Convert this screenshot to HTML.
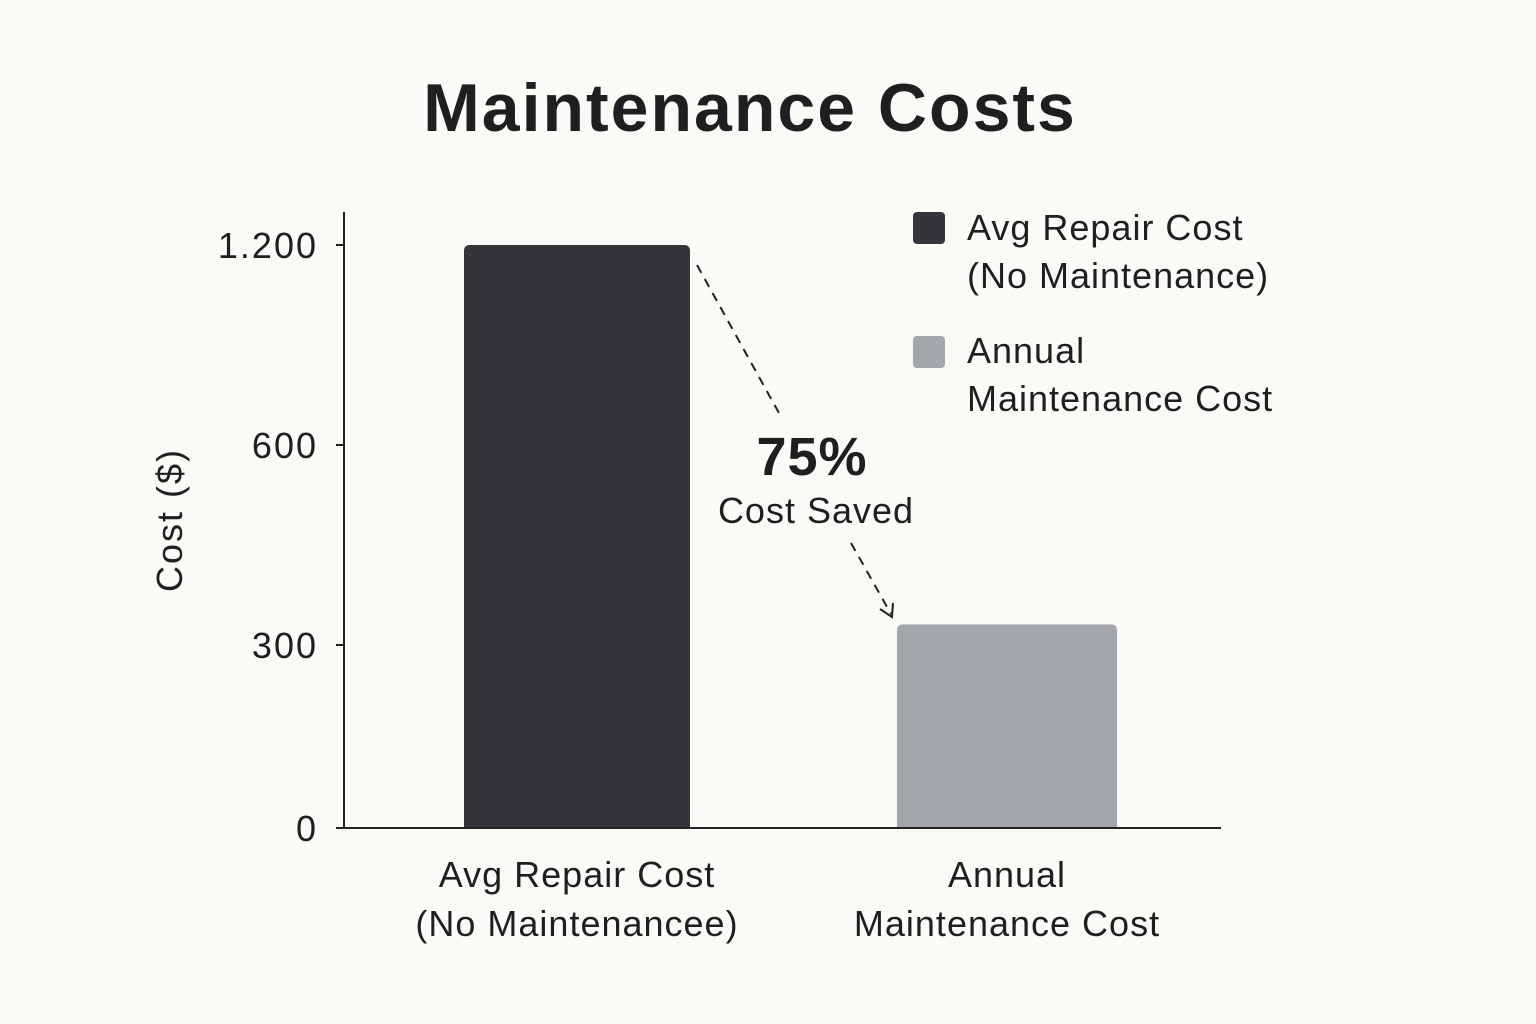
<!DOCTYPE html>
<html><head><meta charset="utf-8">
<style>
html,body{margin:0;padding:0;background:#fbfaf7;}
svg{display:block;font-family:"Liberation Sans","DejaVu Sans",sans-serif;}
</style></head>
<body>
<svg id="chart" width="1536" height="1024" viewBox="0 0 1536 1024">
<rect width="1536" height="1024" fill="#fbfaf7"/>
<text x="750" y="131" text-anchor="middle" font-size="68" font-weight="bold" letter-spacing="2" fill="#1e1f21">Maintenance Costs</text>
<text transform="translate(182,520) rotate(-90)" text-anchor="middle" font-size="36" letter-spacing="2" fill="#1e1f21">Cost ($)</text>
<g id="ticks"></g>
<g id="bars"></g>
<line x1="344" y1="212" x2="344" y2="829" stroke="#222" stroke-width="2"/>
<line x1="343" y1="828" x2="1221" y2="828" stroke="#222" stroke-width="2"/>
<g id="xlabels" font-size="36" letter-spacing="1" fill="#1e1f21" text-anchor="middle"></g>
<g>
<line x1="697" y1="265" x2="779" y2="413" stroke="#222" stroke-width="2" stroke-dasharray="9,7"/>
<line x1="851" y1="543" x2="891" y2="614" stroke="#222" stroke-width="2" stroke-dasharray="9,7"/>
<polyline points="880,609 892,617 893,603" fill="none" stroke="#222" stroke-width="2"/>
<text x="812" y="475" text-anchor="middle" font-size="54" font-weight="bold" letter-spacing="1" fill="#1e1f21">75%</text>
<text x="816" y="523" text-anchor="middle" font-size="36" letter-spacing="1" fill="#1e1f21">Cost Saved</text>
</g>
<g font-size="36" letter-spacing="1">
<rect x="913" y="212" width="32" height="32" rx="4" fill="#333539"/>
<text x="967" y="240" fill="#1e1f21">Avg Repair Cost</text>
<text x="967" y="288" fill="#1e1f21">(No Maintenance)</text>
<rect x="913" y="336" width="32" height="32" rx="4" fill="#a3a6ab"/>
<text x="967" y="363" fill="#1e1f21">Annual</text>
<text x="967" y="411" fill="#1e1f21">Maintenance Cost</text>
</g>
</svg>
<script>
const categories = [["Avg Repair Cost","(No Maintenancee)"],["Annual","Maintenance Cost"]];
const values = [1200, 331];
const tickValues = [0, 300, 600, 1200];
const tickLabels = ["0", "300", "600", "1.200"];
const colors = ["#333539", "#a3a6ab"];

const NS = "http://www.w3.org/2000/svg";
// piecewise axis (reference axis spacing is non-uniform)
const tickPos = [828, 645, 445, 245];
function yScale(v){
  for(let i=0;i<tickValues.length-1;i++){
    if(v<=tickValues[i+1]||i===tickValues.length-2){
      const t=(v-tickValues[i])/(tickValues[i+1]-tickValues[i]);
      return tickPos[i]+t*(tickPos[i+1]-tickPos[i]);
    }
  }
}
const barX=[464,897], barW=[226,220];
function xCenter(i){return barX[i]+barW[i]/2;}

const tg=document.getElementById('ticks');
tickValues.forEach((v,i)=>{
  const y=yScale(v);
  const l=document.createElementNS(NS,'line');
  l.setAttribute('x1',336);l.setAttribute('x2',344);l.setAttribute('y1',y);l.setAttribute('y2',y);
  l.setAttribute('stroke','#222');l.setAttribute('stroke-width',2);
  
  
  tg.appendChild(l);
  const t=document.createElementNS(NS,'text');
  t.setAttribute('x',318);t.setAttribute('y',y+13);t.setAttribute('text-anchor','end');
  t.setAttribute('font-size',36);t.setAttribute('letter-spacing',2);t.setAttribute('fill','#1e1f21');
  t.textContent=tickLabels[i];
  
  
  tg.appendChild(t);
});

const bg=document.getElementById('bars');
values.forEach((v,i)=>{
  const top=yScale(v), bot=yScale(0), x=barX[i], w=barW[i], r=6;
  const p=document.createElementNS(NS,'path');
  p.setAttribute('d',`M${x},${bot} L${x},${top+r} Q${x},${top} ${x+r},${top} L${x+w-r},${top} Q${x+w},${top} ${x+w},${top+r} L${x+w},${bot} Z`);
  p.setAttribute('fill',colors[i]);
  
  
  bg.appendChild(p);
});

const xg=document.getElementById('xlabels');
categories.forEach((lines,i)=>{
  lines.forEach((s,j)=>{
    const t=document.createElementNS(NS,'text');
    t.setAttribute('x',xCenter(i));t.setAttribute('y',887+j*49);
    t.textContent=s;
    
    
    xg.appendChild(t);
  });
});
</script>
</body></html>
